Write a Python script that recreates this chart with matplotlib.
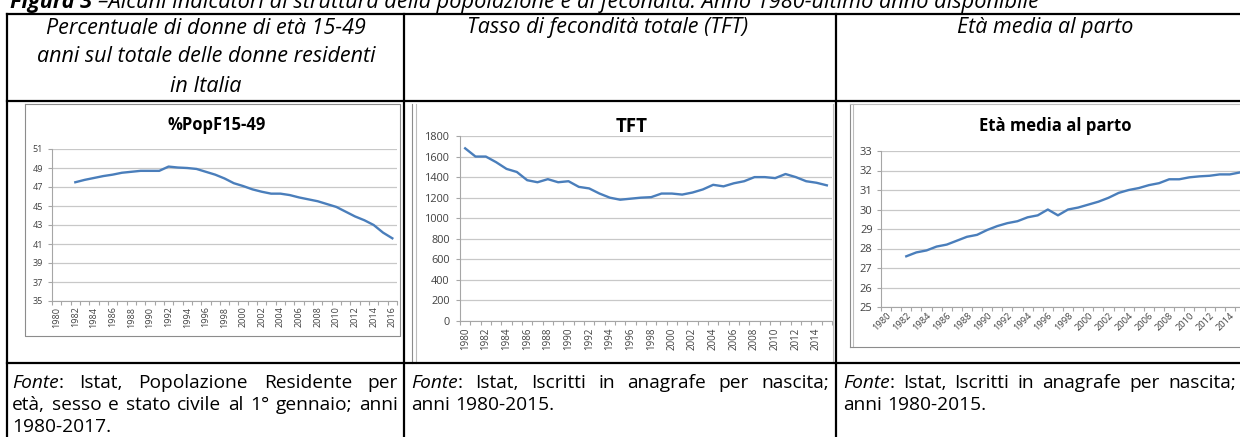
import numpy as np
import matplotlib
matplotlib.use('Agg')
import matplotlib.pyplot as plt

plt.rcParams['font.family'] = ['Open Sans', 'DejaVu Sans']

W, H = 1240, 437

# values
years_pop = list(range(1980, 2017))
pop_f1549 = [np.nan, np.nan,
             47.5, 47.75, 47.95, 48.15, 48.3, 48.5, 48.6, 48.7, 48.7, 48.7,
             49.15, 49.05, 49.0, 48.9, 48.6, 48.3, 47.9, 47.4, 47.1, 46.75,
             46.5, 46.3, 46.3, 46.15, 45.9, 45.7, 45.5, 45.2, 44.9, 44.4,
             43.9, 43.5, 43.0, 42.2, 41.6]

years_tft = list(range(1980, 2016))
tft = [1680, 1600, 1600, 1545, 1480, 1450, 1370, 1350, 1380, 1350,
       1360, 1305, 1290, 1240, 1200, 1180, 1190, 1200, 1205, 1240,
       1240, 1230, 1250, 1280, 1325, 1310, 1340, 1360, 1400, 1400,
       1390, 1430, 1400, 1360, 1345, 1320]

years_age = list(range(1980, 2016))
age_parto = [np.nan, np.nan,
             27.6, 27.8, 27.9, 28.1, 28.2, 28.4, 28.6, 28.7,
             28.95, 29.15, 29.3, 29.4, 29.6, 29.7, 30.0, 29.7, 30.0, 30.1,
             30.25, 30.4, 30.6, 30.85, 31.0, 31.1, 31.25, 31.35, 31.55, 31.55,
             31.65, 31.7, 31.73, 31.8, 31.8, 31.9]

fig_label = 'Figura 3 '
fig_title = '–Alcuni indicatori di struttura della popolazione e di fecondità. Anno 1980-ultimo anno disponibile'
headers = [['Percentuale di donne di età 15-49', 'anni sul totale delle donne residenti', 'in Italia'],
           ['Tasso di fecondità totale (TFT)'],
           ['Età media al parto']]
chart_titles = ['%PopF15-49', 'TFT', 'Età media al parto']
footers = [['Fonte: Istat, Popolazione Residente per', 'età, sesso e stato civile al 1° gennaio; anni', '1980-2017.'],
           ['Fonte: Istat, Iscritti in anagrafe per nascita;', 'anni 1980-2015.'],
           ['Fonte: Istat, Iscritti in anagrafe per nascita;', 'anni 1980-2015.']]

fig = plt.figure(figsize=(12.4, 4.37), dpi=100)


def px_axes(x0, y0, x1, y1):
    return fig.add_axes([x0 / W, 1 - y1 / H, (x1 - x0) / W, (y1 - y0) / H])


def excel_chart(ax, years, values, ymin, ymax, ystep, yfs, xfs, rot, ypad, xpad):
    n = len(years)
    x = np.arange(n)
    ax.plot(x, values, color='#4A7EBB', lw=1.7, solid_joinstyle='round', clip_on=False)
    ax.set_xlim(-0.5, n - 0.5)
    ax.set_ylim(ymin, ymax)
    ax.set_yticks(np.arange(ymin, ymax + ystep / 2, ystep))
    ax.yaxis.grid(True, color='#C8C8C8', lw=0.9)
    ax.set_axisbelow(True)
    ax.set_xticks(x[::2])
    if rot == 45:
        ax.set_xticklabels([str(y) for y in years[::2]], rotation=45, ha='right', rotation_mode='anchor')
    else:
        ax.set_xticklabels([str(y) for y in years[::2]], rotation=90)
    ax.set_xticks(np.arange(-0.5, n), minor=True)
    ax.tick_params(axis='x', which='major', length=0, pad=xpad, labelsize=xfs, labelcolor='#404040')
    ax.tick_params(axis='x', which='minor', length=3, color='#A6A6A6', width=0.8)
    ax.tick_params(axis='y', length=3, color='#A6A6A6', width=0.8, pad=ypad,
                   labelsize=yfs, labelcolor='#404040')
    for s in ['top', 'right']:
        ax.spines[s].set_visible(False)
    for s in ['left', 'bottom']:
        ax.spines[s].set_color('#A6A6A6')
        ax.spines[s].set_linewidth(0.8)
    ax.patch.set_alpha(0)


ax1 = px_axes(52, 149, 397, 301)
excel_chart(ax1, years_pop, pop_f1549, 35, 51, 2, 6.5, 6.5, 90, 3.5, 4)
ax2 = px_axes(460, 136, 832, 321)
excel_chart(ax2, years_tft, tft, 0, 1800, 200, 7.8, 7, 90, 4.5, 5)
ax3 = px_axes(881, 151, 1245, 307)
excel_chart(ax3, years_age, age_parto, 25, 33, 1, 8, 6.7, 45, 3, 3)

# overlay in pixel coordinates for the table, boxes and texts
base = fig.add_axes([0, 0, 1, 1], zorder=5)
base.set_xlim(0, W)
base.set_ylim(H, 0)
base.axis('off')
base.patch.set_alpha(0)
renderer = fig.canvas.get_renderer()


def text_w(s, **kw):
    t = base.text(0, 0, s, **kw)
    w = t.get_window_extent(renderer).width
    t.remove()
    return w


# chart frames (grey)
gk = dict(color='#8C8C8C', lw=0.8)
base.plot([25, 400, 400, 25, 25], [104, 104, 336, 336, 104], **gk)
base.plot([412, 412], [104, 363], **gk)
base.plot([416, 416], [104, 363], color='#BDBDBD', lw=0.8)
base.plot([833, 833], [104, 363], color='#BDBDBD', lw=0.8)
base.plot([850, 850], [104, 347], **gk)
base.plot([853, 853], [104, 347], color='#BDBDBD', lw=0.8)
base.plot([850, W + 5], [347, 347], **gk)
base.plot([850, W + 5], [104, 104], color='#BDBDBD', lw=0.8)

# table lines
tk = dict(color='black', lw=1.6, solid_capstyle='projecting')
for y in [14, 101, 363]:
    base.plot([7, W + 5], [y, y], **tk)
for x in [7, 404, 836]:
    base.plot([x, x], [14, H + 5], **tk)

# figure caption, cut at the top edge
tfs = 15.7
base.text(10, 8, fig_label, fontsize=tfs, fontweight='bold', style='italic', va='baseline')
lw_ = text_w(fig_label, fontsize=tfs, fontweight='bold', style='italic')
base.text(10 + lw_, 8, fig_title, fontsize=tfs, style='italic', va='baseline')

# header row
hfs = 15.5
for i, line in enumerate(headers[0]):
    base.text(206, 28 + 29 * i, line, fontsize=hfs, style='italic', ha='center', va='center')
base.text(608, 28, headers[1][0], fontsize=hfs, style='italic', ha='center', va='center')
base.text(1045, 28, headers[2][0], fontsize=hfs, style='italic', ha='center', va='center')

# chart titles
base.text(217, 125, chart_titles[0], fontsize=12, fontweight='bold', ha='center', va='center')
base.text(632, 127, chart_titles[1], fontsize=13.5, fontweight='bold', ha='center', va='center')
base.text(1055, 126, chart_titles[2], fontsize=12, fontweight='bold', ha='center', va='center')

# footer row, justified like the Word table
ffs = 13.8


def footer_line(s, x0, x1, y, justify):
    words = s.split(' ')
    widths = []
    for w in words:
        if w == 'Fonte:':
            widths.append(text_w('Fonte', fontsize=ffs, style='italic') + text_w(':', fontsize=ffs))
        else:
            widths.append(text_w(w, fontsize=ffs))
    if justify and len(words) > 1:
        gap = (x1 - x0 - sum(widths)) / (len(words) - 1)
    else:
        gap = text_w('a a', fontsize=ffs) - text_w('aa', fontsize=ffs)
    x = x0
    for w, wd in zip(words, widths):
        if w == 'Fonte:':
            base.text(x, y, 'Fonte', fontsize=ffs, style='italic', va='center')
            base.text(x + text_w('Fonte', fontsize=ffs, style='italic'), y, ':', fontsize=ffs, va='center')
        else:
            base.text(x, y, w, fontsize=ffs, va='center')
        x += wd + gap


cols = [(12, 398), (411, 829), (843, 1236)]
for (x0, x1), lines in zip(cols, footers):
    for j, line in enumerate(lines):
        footer_line(line, x0, x1, 383 + 22 * j, j < len(lines) - 1)

fig.savefig('out.png', dpi=100)
